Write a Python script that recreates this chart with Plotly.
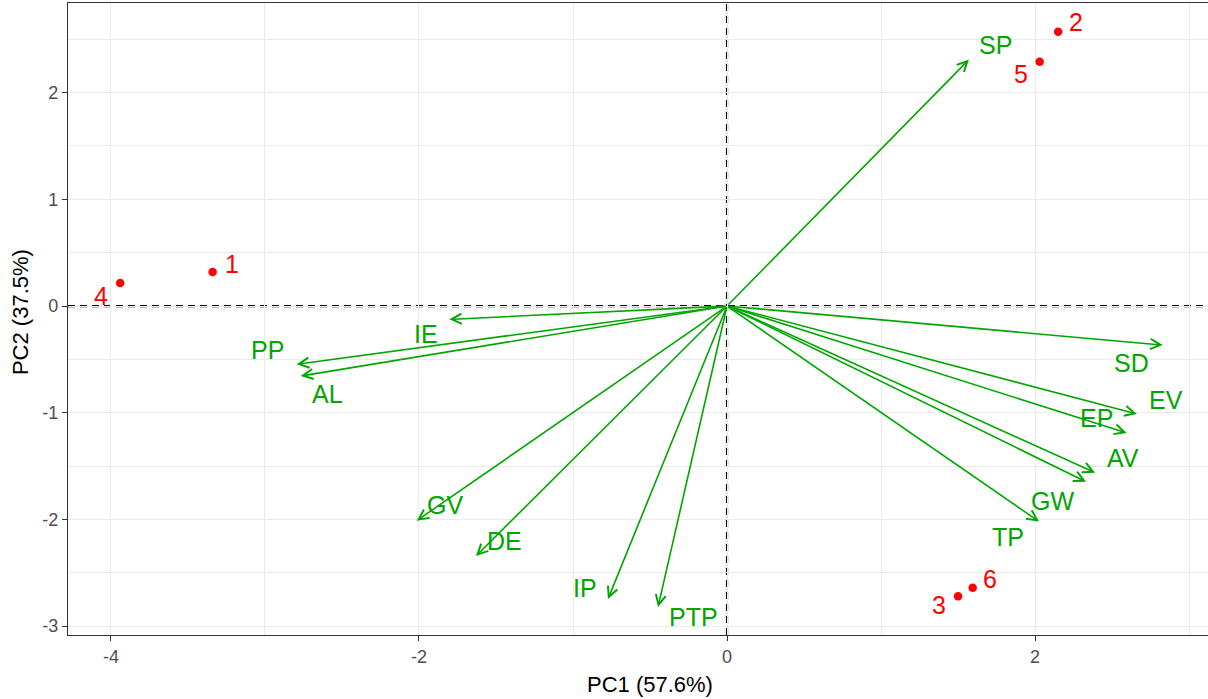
import plotly.graph_objects as go

# ---- data ----
obs_labels = ["1", "2", "3", "4", "5", "6"]
obs_pc1 = [-3.34, 2.15, 1.50, -3.94, 2.03, 1.595]
obs_pc2 = [0.32, 2.57, -2.72, 0.215, 2.29, -2.64]

var_labels = ["SP", "SD", "EV", "EP", "AV", "GW", "TP", "IE", "PP", "AL", "GV", "DE", "IP", "PTP"]
var_pc1 = [1.571, 2.829, 2.662, 2.595, 2.39, 2.331, 2.026, -1.803, -2.794, -2.768, -2.015, -1.63, -0.773, -0.448]
var_pc2 = [2.31, -0.366, -1.012, -1.19, -1.562, -1.647, -2.02, -0.125, -0.546, -0.656, -2.012, -2.343, -2.746, -2.821]

x_ticks = [-4, -2, 0, 2]
x_minor = [-3, -1, 1, 3]
y_ticks = [-3, -2, -1, 0, 1, 2]
y_minor = [-2.5, -1.5, -0.5, 0.5, 1.5, 2.5]

x_title = "PC1 (57.6%)"
y_title = "PC2 (37.5%)"

# ---- styles (label offsets in pixels) ----
obs_offsets = {"1": (19, 8), "2": (18, 10), "3": (-19, -9), "4": (-19, -13), "5": (-19, -12), "6": (17, 9)}
var_offsets = {"SP": (27, 15), "SD": (-31, -18), "EV": (29, 14), "EP": (-30, 15), "AV": (28, 15),
               "GW": (-34, -19), "TP": (-31, -15), "IE": (-23, -15), "PP": (-29, 14), "AL": (27, -18),
               "GV": (28, 16), "DE": (29, 15), "IP": (-23, 11), "PTP": (35, -10)}

GREEN = "#00A600"
RED = "#FF0000"
FONT = "Liberation Sans, Arial, sans-serif"

fig = go.Figure()

fig.add_trace(go.Scatter(x=obs_pc1, y=obs_pc2, mode="markers",
                         marker=dict(color=RED, size=8.5, line=dict(width=0)),
                         hoverinfo="skip", showlegend=False))

annotations = []
for lab, vx, vy in zip(var_labels, var_pc1, var_pc2):
    annotations.append(dict(x=vx, y=vy, ax=0, ay=0, xref="x", yref="y", axref="x", ayref="y",
                            text="", showarrow=True, arrowhead=5, arrowsize=1.25, arrowwidth=1.6,
                            arrowcolor=GREEN, standoff=0, startstandoff=0))
for lab, vx, vy in zip(var_labels, var_pc1, var_pc2):
    dx, dy = var_offsets[lab]
    annotations.append(dict(x=vx, y=vy, xref="x", yref="y", text=lab, showarrow=False,
                            xshift=dx, yshift=dy, xanchor="center", yanchor="middle",
                            font=dict(family=FONT, size=25, color=GREEN)))
for lab, ox, oy in zip(obs_labels, obs_pc1, obs_pc2):
    dx, dy = obs_offsets[lab]
    annotations.append(dict(x=ox, y=oy, xref="x", yref="y", text=lab, showarrow=False,
                            xshift=dx, yshift=dy, xanchor="center", yanchor="middle",
                            font=dict(family=FONT, size=25, color=RED)))

annotations.append(dict(x=0.5105, y=-0.0791, xref="paper", yref="paper", text=x_title, showarrow=False,
                        xanchor="center", yanchor="middle", font=dict(family=FONT, size=22, color="black")))
annotations.append(dict(x=-0.0421, y=0.511, xref="paper", yref="paper", text=y_title, showarrow=False,
                        textangle=-90, xanchor="center", yanchor="middle",
                        font=dict(family=FONT, size=22, color="black")))

shapes = [
    dict(type="line", xref="x", yref="paper", x0=0, x1=0, y0=0, y1=1, layer="between",
         line=dict(color="black", width=2.2, dash="7px,5px")),
    dict(type="line", xref="paper", yref="y", x0=0, x1=1, y0=0, y1=0, layer="between",
         line=dict(color="black", width=2.2, dash="7px,5px")),
]

axis_common = dict(
    showgrid=True, gridcolor="#EBEBEB", gridwidth=1.2, zeroline=False,
    ticks="outside", ticklen=5, tickwidth=1.3, tickcolor="#333333",
    tickfont=dict(family=FONT, size=18, color="#4D4D4D"),
    showline=True, linecolor="#333333", linewidth=1.3,
)

fig.update_layout(
    width=1208, height=699,
    margin=dict(l=68, r=0, t=3, b=64),
    plot_bgcolor="white", paper_bgcolor="white",
    showlegend=False,
    xaxis=dict(range=[-4.279, 3.123], tickmode="array", tickvals=x_ticks,
               ticktext=[str(v) for v in x_ticks], mirror=True,
               minor=dict(tickmode="array", tickvals=x_minor, showgrid=True,
                          gridcolor="#EBEBEB", gridwidth=0.8, ticks=""),
               **axis_common),
    yaxis=dict(range=[-3.083, 2.840], tickmode="array", tickvals=y_ticks,
               ticktext=[str(v) for v in y_ticks], mirror=False,
               minor=dict(tickmode="array", tickvals=y_minor, showgrid=True,
                          gridcolor="#EBEBEB", gridwidth=0.8, ticks=""),
               **axis_common),
    annotations=annotations,
    shapes=shapes,
)

fig.write_html("out.html")
